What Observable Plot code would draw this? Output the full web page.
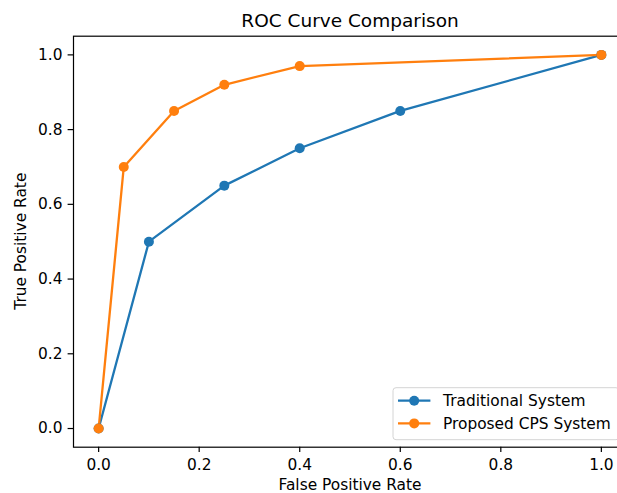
<!DOCTYPE html>
<html>
<head>
<meta charset="utf-8">
<script src="https://cdn.jsdelivr.net/npm/d3@7"></script>
<script src="https://cdn.jsdelivr.net/npm/@observablehq/plot@0.6"></script>
<style>
  html, body { margin: 0; padding: 0; background: #fff; overflow: hidden; }
  svg { font-family: "DejaVu Sans", sans-serif; display: block; }
</style>
</head>
<body>
<div id="chart"></div>
<script>
const seriesNames = ["Traditional System", "Proposed CPS System"];
const seriesColors = ["#1f77b4", "#ff7f0e"];
const traditionalFPR = [0, 0.1, 0.25, 0.4, 0.6, 1.0];
const traditionalTPR = [0, 0.5, 0.65, 0.75, 0.85, 1.0];
const proposedFPR = [0, 0.05, 0.15, 0.25, 0.4, 1.0];
const proposedTPR = [0, 0.7, 0.85, 0.92, 0.97, 1.0];
const tickValues = [0, 0.2, 0.4, 0.6, 0.8, 1.0];
const title = "ROC Curve Comparison";
const xLabel = "False Positive Rate";
const yLabel = "True Positive Rate";

const data = [
  ...traditionalFPR.map((x, i) => ({series: seriesNames[0], x, y: traditionalTPR[i]})),
  ...proposedFPR.map((x, i) => ({series: seriesNames[1], x, y: proposedTPR[i]}))
];

const W = 617, H = 493;
const FS = 15.4;
const plot = Plot.plot({
  width: W,
  height: H,
  marginLeft: 73,
  marginRight: -9,
  marginTop: 35.7,
  marginBottom: 46.3,
  style: {fontFamily: "DejaVu Sans, sans-serif", fontSize: FS + "px", color: "#000", background: "#fff"},
  x: {domain: [-0.05, 1.05]},
  y: {domain: [-0.05, 1.05]},
  color: {domain: seriesNames, range: seriesColors},
  marks: [
    Plot.line(data, {x: "x", y: "y", z: "series", stroke: "series", strokeWidth: 2.3}),
    Plot.dot(data, {x: "x", y: "y", fill: "series", r: 5, stroke: null}),
    Plot.frame({stroke: "#000", strokeWidth: 1.2, strokeOpacity: 1}),
    Plot.axisX({ticks: tickValues, tickFormat: d3.format(".1f"), tickSize: 5.4, tickPadding: 6, fontSize: FS, label: null, strokeWidth: 1.2, strokeOpacity: 1}),
    Plot.axisY({ticks: tickValues, tickFormat: d3.format(".1f"), tickSize: 5.4, tickPadding: 5.6, fontSize: FS, label: null, strokeWidth: 1.2, strokeOpacity: 1}),
    Plot.text([title], {frameAnchor: "top", lineAnchor: "middle", dy: -14.9, fontSize: 18.5, fill: "#000"}),
    Plot.text([xLabel], {frameAnchor: "bottom", lineAnchor: "middle", dy: 37.6, fontSize: FS, fill: "#000"})
  ]
});
document.getElementById("chart").append(plot);

const xr = plot.scale("x").range;
const yr = plot.scale("y").range;
const svg = d3.select(plot);

// Y axis label (rotated), centred on the frame
svg.append("text")
  .attr("transform", `translate(${xr[0] - 47},${(yr[0] + yr[1]) / 2}) rotate(-90)`)
  .attr("text-anchor", "middle")
  .attr("font-size", FS).attr("fill", "#000")
  .text(yLabel);

// Legend (lower right, matplotlib style)
const right = xr[1], bottom = yr[0];
const pad = 7, boxW = 226, boxH = 52;
const g = svg.append("g").attr("transform", `translate(${right - pad - boxW},${bottom - pad - boxH})`);
g.append("rect").attr("width", boxW).attr("height", boxH).attr("rx", 3)
  .attr("fill", "#fff").attr("fill-opacity", 0.8).attr("stroke", "#d4d4d4").attr("stroke-width", 1);
seriesNames.forEach((name, i) => {
  const cy = 13 + i * 22.7;
  g.append("line").attr("x1", 5).attr("x2", 37.4).attr("y1", cy).attr("y2", cy)
    .attr("stroke", seriesColors[i]).attr("stroke-width", 2.3);
  g.append("circle").attr("cx", 21.2).attr("cy", cy).attr("r", 5).attr("fill", seriesColors[i]);
  g.append("text").attr("x", 50).attr("y", cy).attr("dy", "0.35em")
    .attr("text-anchor", "start")
    .attr("font-size", FS).attr("fill", "#000").text(name);
});
</script>
</body>
</html>
